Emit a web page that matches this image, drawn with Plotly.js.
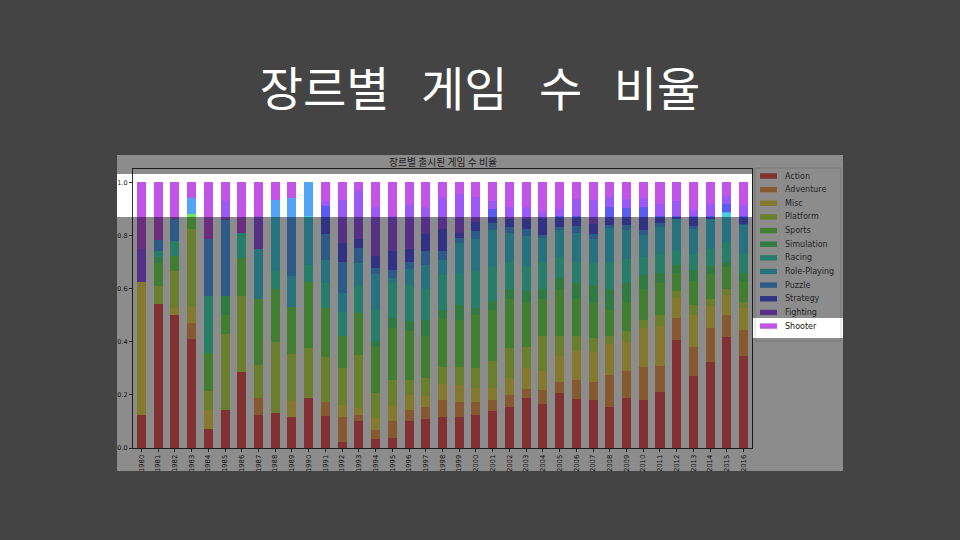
<!DOCTYPE html>
<html>
<head>
<meta charset="utf-8">
<script src="https://cdn.plot.ly/plotly-3.0.1.min.js"></script>
<style>
  html, body { margin: 0; padding: 0; background: #444444; }
  #chart { width: 960px; height: 540px; }
</style>
</head>
<body>
<div id="chart"></div>
<script>
// 연도 (x축)
const years = ['1980','1981','1982','1983','1984','1985','1986','1987','1988','1989',
  '1990','1991','1992','1993','1994','1995','1996','1997','1998','1999',
  '2000','2001','2002','2003','2004','2005','2006','2007','2008','2009',
  '2010','2011','2012','2013','2014','2015','2016'];

const genres = ['Action','Adventure','Misc','Platform','Sports','Simulation',
  'Racing','Role-Playing','Puzzle','Strategy','Fighting','Shooter'];

// 장르별 비율 (%) - 그림에서 읽은 값
const action      = [12.5,54.3,50,41.2,7.1,14.3,28.6,12.5,13.3,11.8,18.75,12.2,2.4,10.2,3.4,3.6,10,10.8,11.8,11.8,12.5,14,15.3,19,16.5,20.6,18.5,17.9,15.6,19,18.1,21,40.5,27.2,32.2,41.6,34.7];
const adventure   = [0,0,0,5.9,0,0,0,6.25,0,0,0,5,9.4,2.3,3.4,6.4,4.3,4.8,6.3,5.7,4.7,4.1,4.7,3.3,5.4,4.4,7.2,6.9,11.9,9.8,12.2,9.7,8.4,11,13,8.6,9.8];
const misc        = [50,0,2.8,5.9,7.1,0,0,0,0,5.9,0,0,4.4,2.5,4.4,6,5.7,3.8,5.9,6.3,5.3,4.4,6.3,7.7,7,9.5,10.7,11.2,11.5,11.2,14.7,15.3,7.6,12,8.1,7.5,8.2];
const platform    = [0,6.5,13.9,29.4,7.1,28.6,28.6,12.5,26.7,17.6,18.75,17,13.8,20.1,9.4,9.5,5.7,6.9,6.3,6.5,7.5,10.1,11.3,8.2,13.1,7.5,5.6,5.4,3,3.9,3.3,4.2,2.5,3.8,2.7,2.3,2.3];
const sports      = [0,8.7,5.6,5.9,14.3,7.1,14.3,25,20,17.6,25,18.5,12,15.7,17.4,19.5,18.3,15.7,18.6,18,20,19.4,18.4,16.4,14,18,14,13.2,10,11.1,11.7,11.8,7,9,9.5,8,8];
const simulation  = [0,2.2,0,0,0,7.1,0,0,0,0,0,0,0,0,2.1,4,3.7,6.3,3.1,5.7,2.7,3.2,4,4.4,4,4,6,6.9,8,7,5,4,3,4,3,2,3];
const racing      = [0,2.2,5.6,0,21.4,0,9.5,0,6.7,0,6.25,9.3,9,10.2,11.9,13,13.8,11.7,13,11.3,13.8,12.8,10,9.4,10,8,8,8.2,10,9,7,7,5,6,6.5,7,7];
const rolePlaying = [0,0,0,0,0,0,0,18.75,20,11.8,18.75,8.9,7.4,8.7,13.3,2,5.7,9,5.9,11.7,12,14,11,11.3,9,10,11,8.8,12.9,11,8,10,12,9.5,11,11.5,11];
const puzzle      = [0,4.3,8.3,5.9,21.4,28.6,0,0,6.7,29.4,12.5,9.7,11.6,5.6,2.5,3,2.8,5,3.2,2,3.1,2.8,2,2.6,1,1,2.5,1.9,1.1,2,2,1.5,0.2,1,0.2,0.2,0.2];
const strategy    = [0,0,0,0,0,0,0,0,0,0,0,10.4,7.2,3.2,4.4,7,5,6.4,8.2,2,3.4,5,3,3.7,6.7,4.3,3.8,3.8,6.7,6.4,8.6,2.8,1.1,3.8,1.1,3.3,3.1];
const fighting    = [12.5,0,0,0,0,7.1,0,12.5,0,0,0,2,16,18.2,18.5,13.3,16.4,10.4,11.9,14.5,9.5,3.2,4.8,4.7,2.3,2.7,6.3,9,3.8,3.4,3.4,4.7,5.7,2.1,4.7,2.8,3.7];
const shooter     = [25,21.7,13.9,5.9,21.4,7.1,19,12.5,6.7,5.9,0,7,6.8,3.3,9.3,12.7,8.6,9.2,5.8,4.5,5.5,7,9.2,9.3,11,10,6.4,6.8,5.5,6.2,6,8,7,10.6,8,5.2,9];

const series = [action, adventure, misc, platform, sports, simulation,
  racing, rolePlaying, puzzle, strategy, fighting, shooter];

const colors = ['#eb5a5a','#f5a25a','#f0dc55','#c3e655','#78e65a','#5ae178',
  '#4ae3be','#4ad0e3','#52a4f5','#5a5cf0','#9b5af5','#c355e6'];

// 연도별 합계로 나눠 비율(0~1)로 변환
const totals = years.map((_, i) => series.reduce((s, arr) => s + arr[i], 0));

const traces = series.map((arr, g) => ({
    type: 'bar',
    name: genres[g],
    x: years,
    y: arr.map((v, i) => v / totals[i]),
    width: 0.54,
    marker: { color: colors[g], line: { width: 0 } },
    hoverinfo: 'x+y+name'
}));

// 픽셀 좌표 -> paper 좌표
const W = 960, H = 540;
const px = x => x / W;
const py = y => 1 - y / H;

function rect(x0, y0, x1, y1, fill, layer, line) {
    return {
        type: 'rect', xref: 'paper', yref: 'paper',
        x0: px(x0), x1: px(x1), y0: py(y1), y1: py(y0),
        fillcolor: fill, layer: layer,
        line: line || { width: 0 }
    };
}

const shapes = [];
// 차트 이미지 배경
shapes.push(rect(117, 155, 843, 471, '#ffffff', 'below'));
// 범례 틀
shapes.push(rect(755, 168, 841, 341, '#ffffff', 'above', { color: '#d8d8d8', width: 1 }));

const legendTop = 176, legendStep = 13.64;
genres.forEach((g, i) => {
    const cy = legendTop + legendStep * i;
    shapes.push(rect(760, cy - 2.7, 777, cy + 2.7, colors[i], 'above'));
});

// 어둡게 가리는 덮개 (Shooter 영역만 남김)
const dim = 'rgba(0,0,0,0.45)';
shapes.push(rect(117, 155, 843, 174, dim, 'above'));
shapes.push(rect(752, 174, 843, 217, dim, 'above'));
shapes.push(rect(117, 217, 843, 318, dim, 'above'));
shapes.push(rect(117, 318, 752, 338, dim, 'above'));
shapes.push(rect(117, 338, 843, 471, dim, 'above'));

const annotations = [{
    text: '장르별 출시된 게임 수 비율',
    xref: 'paper', yref: 'paper',
    x: px(443), y: py(162), xanchor: 'center', yanchor: 'middle',
    showarrow: false,
    font: { family: 'Noto Sans CJK KR', size: 9.8, color: '#1c1c1c' }
}];
genres.forEach((g, i) => {
    annotations.push({
        text: g,
        xref: 'paper', yref: 'paper',
        x: px(783), y: py(legendTop + legendStep * i),
        xanchor: 'left', yanchor: 'middle',
        showarrow: false,
        font: { family: 'DejaVu Sans', size: 8, color: g === 'Shooter' ? '#111111' : '#262626' }
    });
});

const sp = '\u00a0\u00a0\u00a0';
const layout = {
    width: W, height: H,
    paper_bgcolor: '#444444',
    plot_bgcolor: 'rgba(0,0,0,0)',
    margin: { l: 0, r: 0, t: 0, b: 0 },
    showlegend: false,
    barmode: 'stack',
    title: {
        text: '장르별' + sp + '게임' + sp + '수' + sp + '비율',
        font: { family: 'Noto Sans CJK KR', size: 47, color: '#ffffff' },
        x: 0.5, xanchor: 'center',
        y: 1 - 90 / H, yanchor: 'middle'
    },
    xaxis: {
        domain: [px(133), px(752)],
        type: 'category',
        range: [-0.5, 36.5],
        tickangle: -90,
        tickfont: { family: 'DejaVu Sans', size: 6.8, color: '#222222' },
        ticks: 'outside', ticklen: 3, tickcolor: '#333333',
        showline: true, linecolor: '#333333', linewidth: 1, mirror: true,
        showgrid: false, zeroline: false
    },
    yaxis: {
        domain: [py(448), py(169)],
        range: [0, 1.05],
        tickvals: [0, 0.2, 0.4, 0.6, 0.8, 1.0],
        tickformat: '.1f',
        tickfont: { family: 'DejaVu Sans', size: 6.5, color: '#222222' },
        ticks: 'outside', ticklen: 3, tickcolor: '#333333',
        showline: true, linecolor: '#333333', linewidth: 1, mirror: true,
        showgrid: false, zeroline: false
    },
    shapes: shapes,
    annotations: annotations
};

Plotly.newPlot('chart', traces, layout, { displayModeBar: false, staticPlot: true });
</script>
</body>
</html>
